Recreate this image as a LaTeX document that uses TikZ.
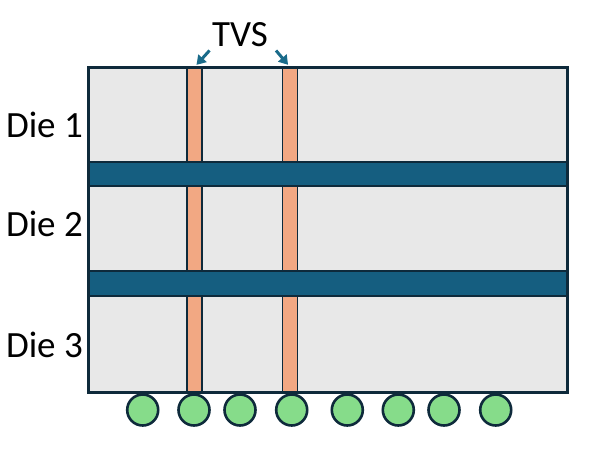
\documentclass[tikz,border=0pt]{standalone}
\usepackage{fontspec}
\setmainfont{Carlito}
\usetikzlibrary{positioning}
\usetikzlibrary{arrows.meta}
\definecolor{diegray}{HTML}{E8E8E8}
\definecolor{edgedark}{HTML}{0E2A3B}
\definecolor{bondblue}{HTML}{155E80}
\definecolor{viaorange}{HTML}{F2A883}
\definecolor{bumpgreen}{HTML}{86DC8A}
\definecolor{arrowblue}{HTML}{1A6B8A}
\tikzset{
  die/.style={fill=diegray, minimum width=478pt, inner sep=0pt},
  band/.style={fill=bondblue, draw=edgedark, line width=2.5pt, minimum width=478pt, inner sep=0pt},
  tsv/.style={fill=viaorange, draw=edgedark, line width=1.8pt, minimum width=15pt, minimum height=324pt, inner sep=0pt},
  bump/.style={circle, fill=bumpgreen, draw=edgedark, line width=2.6pt, minimum size=31pt, inner sep=0pt},
  lbl/.style={font=\fontsize{37}{40}\selectfont, inner sep=0pt},
  arr/.style={-{Triangle[length=9pt,width=11pt]}, draw=arrowblue, fill=arrowblue, line width=3pt}
}
\begin{document}
\begin{tikzpicture}[x=1pt,y=-1pt]
  \useasboundingbox (0,0) rectangle (597,460);

  % dies
  \node[die, minimum height=94pt] (die1) at (328,115) {};
  \node[die, minimum height=85pt] (die2) at (328,228.5) {};
  \node[die, minimum height=96pt] (die3) at (328,344) {};

  % through vias
  \node[tsv] (tsvA) at (194.5,230) {};
  \node[tsv] (tsvB) at (290,230) {};

  % bonding layers
  \node[band, minimum height=24pt] (band1) at (328,174) {};
  \node[band, minimum height=25pt] (band2) at (328,283.5) {};

  % outline
  \draw[edgedark, line width=3pt] (die1.north west) rectangle (die3.south east);

  % bumps
  \foreach \bx [count=\i] in {142.7,194,240,291.7,347.3,398.3,444,495.7}
    \node[bump] (bump\i) at (\bx,410) {};

  % labels
  \node[lbl, anchor=east] (lab1) at (83,125) {Die 1};
  \node[lbl, anchor=east] (lab2) at (83,224) {Die 2};
  \node[lbl, anchor=east] (lab3) at (83,345) {Die 3};
  \node[lbl] (tvs) at (240,35) {TVS};

  \coordinate (arrA) at (209.5,50.5);
  \coordinate (arrB) at (276,50.5);
  \draw[arr, shorten >=3pt] (arrA) -- (tsvA.north);
  \draw[arr, shorten >=3pt] (arrB) -- (tsvB.north);
\end{tikzpicture}
\end{document}
